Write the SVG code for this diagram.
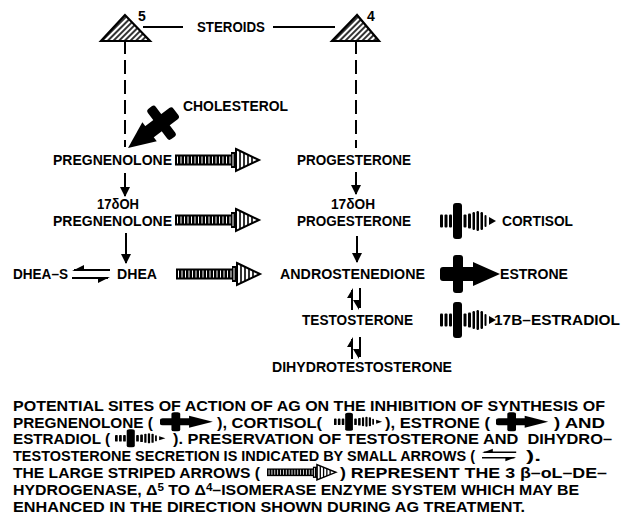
<svg xmlns="http://www.w3.org/2000/svg" width="633" height="523" viewBox="0 0 633 523">
<style>
.t{font-family:"Liberation Sans",Arial,sans-serif;font-weight:bold;font-size:14px;fill:#000}
.b{font-family:"Liberation Sans",Arial,sans-serif;font-weight:bold;font-size:15px;fill:#000}
.ln{stroke:#000;stroke-width:2;fill:none}
.dash{stroke:#000;stroke-width:2;stroke-dasharray:14 6;fill:none}
.arr{stroke:#000;stroke-width:2;fill:none;marker-end:url(#ah)}
.tri{fill:url(#hatch);stroke:#000;stroke-width:2.2;stroke-linejoin:miter}
</style>
<defs>
<pattern id="hatch" width="4" height="4" patternUnits="userSpaceOnUse" patternTransform="rotate(45)">
<rect width="4" height="4" fill="#fff"/><line x1="1" y1="0" x2="1" y2="4" stroke="#000" stroke-width="1.6"/>
</pattern>
<marker id="ah" markerWidth="10" markerHeight="10" refX="9" refY="5" orient="auto" markerUnits="userSpaceOnUse">
<path d="M0,0 L10,5 L0,10 Z" fill="#000"/>
</marker>
<g id="striped">
<rect x="0" y="-5.5" width="58" height="11" fill="#000"/>
<line x1="2" y1="0" x2="56" y2="0" stroke="#fff" stroke-width="7" stroke-dasharray="1 2.5"/>
<rect x="56" y="-8" width="6" height="16" fill="#000"/>
<line x1="57.5" y1="0" x2="62" y2="0" stroke="#fff" stroke-width="12" stroke-dasharray="1 2"/>
<polygon points="61,-11 84,0 61,11" fill="#fff" stroke="#000" stroke-width="2"/>
<path d="M65,-9 V9 M69,-7.1 V7.1 M73,-5.3 V5.3 M77,-3.4 V3.4" stroke="#000" stroke-width="1.6"/>
</g>
<g id="blk">
<rect x="0" y="-7" width="38" height="14" rx="3"/>
<rect x="13" y="-19" width="10" height="38" rx="3"/>
<polygon points="33,-12 60,0 33,12"/>
</g>
<g id="spk">
<rect x="0" y="-6.5" width="3" height="13" rx="1"/>
<rect x="4.5" y="-6.5" width="3" height="13" rx="1"/>
<rect x="9" y="-6.5" width="3" height="13" rx="1"/>
<rect x="13" y="-18" width="9" height="36" rx="3"/>
<rect x="23.5" y="-6.5" width="3" height="13" rx="1"/>
<rect x="28" y="-7.5" width="3" height="15" rx="1"/>
<rect x="32.5" y="-9" width="2.5" height="18" rx="1.2"/>
<rect x="36.5" y="-10" width="2.5" height="20" rx="1.2"/>
<rect x="40.5" y="-9" width="2.5" height="18" rx="1.2"/>
<rect x="44.5" y="-6" width="2" height="12" rx="1"/>
<polygon points="49,-4 56,0 49,4"/>
</g>
<g id="eq">
<line x1="2" y1="-4" x2="38" y2="-4" stroke="#000" stroke-width="2"/>
<polygon points="0,-3 12,-9 12,-3"/>
<line x1="0" y1="4" x2="36" y2="4" stroke="#000" stroke-width="2"/>
<polygon points="38,3 26,9 26,3"/>
</g>
<g id="veq">
<line x1="-4" y1="-9" x2="-4" y2="11" stroke="#000" stroke-width="2"/>
<polygon points="-3,-11 -9,-1 -3,-1"/>
<line x1="4" y1="-11" x2="4" y2="9" stroke="#000" stroke-width="2"/>
<polygon points="3,11 -3,1 3,1"/>
</g>
</defs>
<rect width="633" height="523" fill="#fff"/>

<g id="connectors">
<line class="ln" x1="143" y1="27" x2="183" y2="27"/>
<line class="ln" x1="273" y1="27" x2="335" y2="27"/>
<line class="dash" x1="125" y1="40" x2="125" y2="147"/>
<line class="dash" x1="356" y1="40" x2="356" y2="148"/>
<line class="arr" x1="125" y1="173" x2="125" y2="196"/>
<line class="arr" x1="356" y1="172" x2="356" y2="194"/>
<line class="arr" x1="126" y1="233" x2="126" y2="263"/>
<line class="arr" x1="357" y1="236" x2="357" y2="262"/>
<use href="#eq" transform="translate(72,274)"/>
<use href="#veq" transform="translate(356,299)"/>
<use href="#veq" transform="translate(356,348)"/>
<use href="#striped" transform="translate(175,160)"/>
<use href="#striped" transform="translate(175,220)"/>
<use href="#striped" transform="translate(176,274)"/>
<use href="#blk" transform="translate(128,148) rotate(143) translate(-60,0)"/>
<use href="#spk" transform="translate(440,221)"/>
<use href="#blk" transform="translate(440,274)"/>
<use href="#spk" transform="translate(440,320)"/>
</g>

<g id="tri5"><polygon class="tri" points="125,15 101,41 150,41"/><text class="t" x="138" y="21" font-size="12">5</text></g>
<g id="tri4"><polygon class="tri" points="357,15 332,41 379,41"/><text class="t" x="367" y="21" font-size="12">4</text></g>
<g id="steroids"><text class="t" x="197" y="32" textLength="68" lengthAdjust="spacingAndGlyphs">STEROIDS</text></g>
<g id="cholesterol"><text class="t" x="183" y="111" textLength="105" lengthAdjust="spacingAndGlyphs">CHOLESTEROL</text></g>
<g id="pregnenolone"><text class="t" x="53" y="165" textLength="119" lengthAdjust="spacingAndGlyphs">PREGNENOLONE</text></g>
<g id="progesterone"><text class="t" x="297" y="165" textLength="114" lengthAdjust="spacingAndGlyphs">PROGESTERONE</text></g>
<g id="ohpreg"><text class="t" x="97" y="209" textLength="42" lengthAdjust="spacingAndGlyphs">17δOH</text><text class="t" x="53" y="226" textLength="119" lengthAdjust="spacingAndGlyphs">PREGNENOLONE</text></g>
<g id="ohprog"><text class="t" x="331" y="209" textLength="44" lengthAdjust="spacingAndGlyphs">17δOH</text><text class="t" x="297" y="226" textLength="114" lengthAdjust="spacingAndGlyphs">PROGESTERONE</text></g>
<g id="cortisol"><text class="t" x="502" y="226" textLength="71" lengthAdjust="spacingAndGlyphs">CORTISOL</text></g>
<g id="dheas"><text class="t" x="13" y="279" textLength="55" lengthAdjust="spacingAndGlyphs">DHEA–S</text></g>
<g id="dhea"><text class="t" x="117" y="279" textLength="40" lengthAdjust="spacingAndGlyphs">DHEA</text></g>
<g id="androstenedione"><text class="t" x="280" y="279" textLength="145" lengthAdjust="spacingAndGlyphs">ANDROSTENEDIONE</text></g>
<g id="estrone"><text class="t" x="500" y="279" textLength="68" lengthAdjust="spacingAndGlyphs">ESTRONE</text></g>
<g id="testosterone"><text class="t" x="302" y="325" textLength="111" lengthAdjust="spacingAndGlyphs">TESTOSTERONE</text></g>
<g id="estradiol"><text class="t" x="494" y="325" textLength="126" lengthAdjust="spacingAndGlyphs">17B–ESTRADIOL</text></g>
<g id="dht"><text class="t" x="272" y="372" textLength="180" lengthAdjust="spacingAndGlyphs">DIHYDROTESTOSTERONE</text></g>

<g id="caption">
<text class="b" x="13" y="411" textLength="592" lengthAdjust="spacingAndGlyphs">POTENTIAL SITES OF ACTION OF AG ON THE INHIBITION OF SYNTHESIS OF</text>
<text class="b" x="13" y="427.5" textLength="140" lengthAdjust="spacingAndGlyphs">PREGNENOLONE (</text>
<use href="#blk" transform="translate(160,421.7) scale(0.88,0.5)"/>
<text class="b" x="217" y="427.5" textLength="105" lengthAdjust="spacingAndGlyphs">), CORTISOL(</text>
<use href="#spk" transform="translate(334,421.7) scale(0.86,0.5)"/>
<text class="b" x="385" y="427.5" textLength="105" lengthAdjust="spacingAndGlyphs">), ESTRONE (</text>
<use href="#blk" transform="translate(496,421.7) scale(0.87,0.5)"/>
<text class="b" x="554" y="427.5" textLength="51" lengthAdjust="spacingAndGlyphs">) AND</text>
<text class="b" x="13" y="444" textLength="97" lengthAdjust="spacingAndGlyphs">ESTRADIOL (</text>
<use href="#spk" transform="translate(115,438.3) scale(0.9,0.5)"/>
<text class="b" x="173" y="444" textLength="439" lengthAdjust="spacingAndGlyphs" xml:space="preserve">). PRESERVATION OF TESTOSTERONE AND  DIHYDRO–</text>
<text class="b" x="13" y="461" textLength="462" lengthAdjust="spacingAndGlyphs">TESTOSTERONE SECRETION IS INDICATED BY SMALL ARROWS (</text>
<use href="#eq" transform="translate(482,455) scale(0.9,0.7)"/>
<text class="b" x="526" y="461" textLength="15" lengthAdjust="spacingAndGlyphs">).</text>
<text class="b" x="13" y="478" textLength="247" lengthAdjust="spacingAndGlyphs">THE LARGE STRIPED ARROWS (</text>
<use href="#striped" transform="translate(267,472.3) scale(0.82,0.7)"/>
<text class="b" x="340" y="478" textLength="267" lengthAdjust="spacingAndGlyphs">) REPRESENT THE 3 β–oL–DE–</text>
<text class="b" x="13" y="495" textLength="566" lengthAdjust="spacingAndGlyphs">HYDROGENASE, Δ<tspan dy="-4" font-size="11">5</tspan><tspan dy="4"> TO Δ</tspan><tspan dy="-4" font-size="11">4</tspan><tspan dy="4">–ISOMERASE ENZYME SYSTEM WHICH MAY BE</tspan></text>
<text class="b" x="13" y="511.5" textLength="512" lengthAdjust="spacingAndGlyphs">ENHANCED IN THE DIRECTION SHOWN DURING AG TREATMENT.</text>
</g>
</svg>
